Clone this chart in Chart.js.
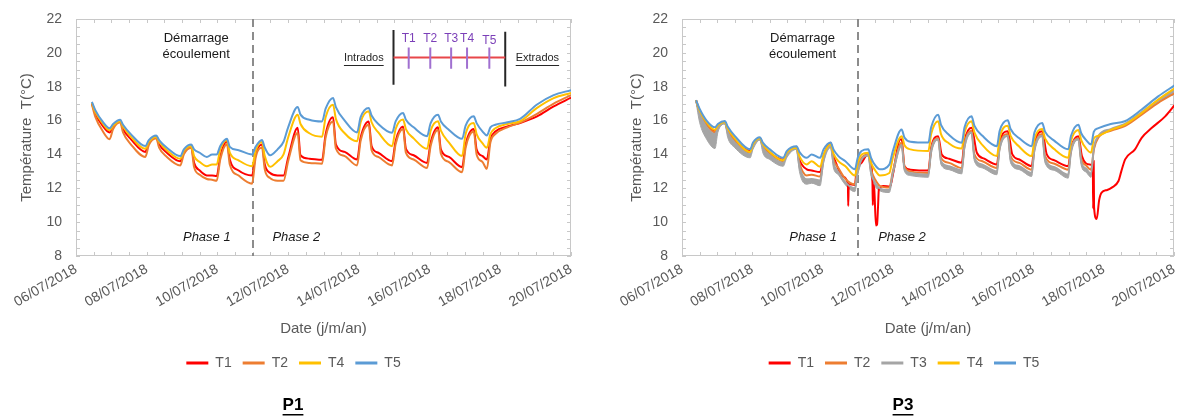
<!DOCTYPE html>
<html>
<head>
<meta charset="utf-8">
<script src="https://cdn.jsdelivr.net/npm/chart.js"></script>
<style>
  html, body { margin: 0; padding: 0; background: #fff; }
  #wrap { position: relative; width: 1177px; height: 418px; overflow: hidden; }
  #p1 { position: absolute; left: 0; top: 0; }
  #p3 { position: absolute; left: 588px; top: 0; }
</style>
</head>
<body>
<div id="wrap">
  <canvas id="p1" width="588" height="418"></canvas>
  <canvas id="p3" width="589" height="418"></canvas>
</div>
<script>
// axis labels
const dateLabels = ["06/07/2018", "08/07/2018", "10/07/2018", "12/07/2018", "14/07/2018", "16/07/2018", "18/07/2018", "20/07/2018"];
const tempTicks = [8, 10, 12, 14, 16, 18, 20, 22];
const flowStartDay = 5; // 11/07/2018, days counted from 06/07/2018 00:00

// P1 (days since 06/07/2018)
const p1Days = [0.45, 0.55, 0.75, 0.95, 1.05, 1.25, 1.33, 1.55, 1.96, 2.06, 2.27, 2.35, 2.57, 2.95,
  3.05, 3.26, 3.34, 3.5, 3.70, 3.85, 3.98, 4.08, 4.27, 4.35, 4.6, 4.98, 5.08, 5.26, 5.34, 5.49, 5.7, 5.87,
  6.0, 6.27, 6.35, 6.6, 6.96, 7.06, 7.27, 7.35, 7.6, 7.95, 8.05, 8.28, 8.36, 8.55, 8.94, 9.04, 9.25, 9.33,
  9.55, 9.93, 10.03, 10.24, 10.32, 10.55, 10.92, 11.02, 11.25, 11.33, 11.5, 11.62, 11.72, 11.86, 12.2,
  12.56, 13.04, 13.51, 14.0];
const p1T1 = [17.0, 16.4, 15.7, 15.3, 15.65, 15.95, 15.5, 14.9, 14.15, 14.7, 15.0, 14.6, 14.1, 13.6,
  14.15, 14.45, 13.5, 13.05, 12.76, 12.75, 12.72, 13.9, 14.78, 13.7, 13.05, 12.76, 14.0, 14.59, 13.4, 12.9, 12.76, 12.76,
  13.8, 15.57, 13.95, 13.75, 13.68, 15.2, 16.2, 14.6, 14.15, 13.7, 15.0, 15.95, 14.5, 14.1, 13.6, 14.8, 15.65, 14.35,
  13.95, 13.5, 14.7, 15.6, 14.3, 13.85, 13.25, 14.6, 15.5, 14.3, 13.9, 13.7, 14.9, 15.35, 15.65,
  15.86, 16.25, 16.84, 17.35];
const p1T2 = [16.95, 16.2, 15.4, 14.9, 15.5, 15.9, 15.3, 14.6, 13.85, 14.55, 14.95, 14.4, 13.85, 13.35,
  14.0, 14.4, 13.25, 12.8, 12.55, 12.5, 12.45, 13.7, 14.6, 13.4, 12.75, 12.27, 13.8, 14.4, 13.1, 12.6, 12.45, 12.45,
  13.6, 15.28, 13.65, 13.5, 13.45, 15.0, 15.95, 14.35, 13.9, 13.35, 14.8, 15.75, 14.25, 13.85, 13.35, 14.6, 15.5, 14.1,
  13.7, 13.2, 14.5, 15.45, 14.05, 13.55, 12.95, 14.4, 15.35, 14.0, 13.55, 13.15, 14.7, 15.2, 15.6,
  15.88, 16.4, 17.0, 17.5];
const p1T4 = [17.05, 16.5, 15.85, 15.43, 15.7, 15.97, 15.65, 15.05, 14.33, 14.75, 15.05, 14.75, 14.25, 13.75,
  14.2, 14.5, 13.9, 13.55, 13.3, 13.4, 13.4, 14.3, 14.84, 14.1, 13.65, 13.3, 14.2, 14.73, 13.9, 13.27, 13.6, 14.0,
  15.0, 16.35, 15.8, 15.25, 15.05, 16.2, 16.94, 16.1, 15.25, 14.78, 15.9, 16.55, 15.9, 15.3, 14.49, 15.5, 16.06, 15.5,
  14.95, 14.33, 15.4, 15.96, 15.4, 14.7, 13.9, 15.2, 15.86, 15.2, 14.65, 14.39, 15.2, 15.55, 15.8,
  15.96, 16.75, 17.33, 17.63];
const p1T5 = [17.1, 16.6, 15.95, 15.55, 15.8, 16.05, 15.75, 15.2, 14.5, 14.85, 15.12, 14.85, 14.4, 13.9,
  14.3, 14.58, 14.3, 14.1, 13.85, 14.0, 14.0, 14.5, 14.92, 14.45, 14.25, 14.0, 14.45, 14.85, 14.4, 13.95, 14.3, 14.75,
  15.6, 16.8, 16.35, 16.05, 15.95, 16.7, 17.33, 16.8, 16.0, 15.3, 16.2, 16.75, 16.3, 15.8, 15.28, 15.95, 16.45, 16.05,
  15.6, 15.08, 15.85, 16.35, 15.95, 15.45, 14.92, 15.7, 16.25, 15.85, 15.35, 15.12, 15.6, 15.75, 15.9,
  16.1, 16.95, 17.5, 17.8];

// P3
const p3Days = [0.40, 0.5, 0.7, 0.94, 1.02, 1.22, 1.3, 1.5, 1.94, 2.02, 2.22, 2.3, 2.5, 2.88,
  2.98, 3.26, 3.34, 3.55, 3.69, 3.93, 4.03, 4.23, 4.31, 4.45, 4.65, 4.92, 5.0, 5.11, 5.3, 5.38, 5.5, 5.63, 5.9,
  6.0, 6.25, 6.33, 6.5, 7.01, 7.09, 7.29, 7.37, 7.6, 7.96, 8.04, 8.24, 8.32, 8.55, 8.96, 9.04, 9.27, 9.35, 9.6, 9.95,
  10.03, 10.25, 10.33, 10.6, 10.99, 11.07, 11.28, 11.36, 11.5, 11.64, 11.72, 11.85, 12.2, 12.6, 13.08, 13.55, 14.03];
const p3T2 = [17.2, 16.5, 15.75, 15.3, 15.6, 15.88, 15.4, 14.8, 14.1, 14.55, 14.92, 14.5, 14.05, 13.6,
  14.05, 14.38, 13.5, 12.76, 12.8, 12.69, 13.8, 14.6, 13.7, 13.2, 12.55, 12.24, 13.2, 13.8, 14.0, 13.1, 12.5, 12.14, 12.04,
  13.0, 14.7, 13.3, 13.0, 12.9, 14.3, 14.95, 13.8, 13.5, 13.2, 14.6, 15.4, 14.0, 13.6, 13.2, 14.5, 15.2, 13.9, 13.5, 13.1,
  14.4, 15.2, 13.9, 13.45, 13.1, 14.3, 14.95, 13.75, 13.35, 13.1, 14.3, 15.0, 15.4, 15.67, 16.35, 17.04, 17.63];
const p3T3 = [17.2, 16.4, 15.6, 15.2, 15.55, 15.85, 15.3, 14.7, 14.0, 14.5, 14.9, 14.4, 13.95, 13.5,
  14.0, 14.35, 13.3, 12.53, 12.55, 12.45, 13.7, 14.5, 13.5, 12.95, 12.35, 12.0, 13.0, 13.7, 13.95, 12.9, 12.3, 12.0, 11.9,
  12.9, 14.55, 13.15, 12.9, 12.8, 14.2, 14.9, 13.6, 13.3, 13.05, 14.5, 15.3, 13.8, 13.4, 13.0, 14.4, 15.1, 13.7, 13.3, 12.9,
  14.3, 15.1, 13.7, 13.25, 12.8, 14.2, 14.9, 13.55, 13.15, 12.85, 14.4, 15.1, 15.5, 15.8, 16.5, 17.2, 17.8];
const p3T3Low = [17.1, 15.9, 14.9, 14.35, 15.3, 15.8, 15.0, 14.4, 13.8, 14.3, 14.85, 14.1, 13.7, 13.3,
  13.8, 14.3, 13.0, 12.24, 12.3, 12.15, 13.5, 14.4, 13.2, 12.8, 12.2, 11.8, 12.8, 13.5, 13.9, 12.7, 12.1, 11.85, 11.75,
  12.7, 14.5, 13.0, 12.75, 12.65, 14.0, 14.85, 13.4, 13.1, 12.85, 14.3, 15.25, 13.6, 13.2, 12.8, 14.2, 15.05, 13.5, 13.1, 12.7,
  14.1, 15.05, 13.5, 13.05, 12.6, 14.0, 14.85, 13.35, 12.95, 12.65, 14.2, 15.0, 15.4, 15.7, 16.4, 17.1, 17.7];
const p3T4 = [17.2, 16.6, 15.9, 15.45, 15.7, 15.92, 15.55, 14.95, 14.15, 14.6, 14.95, 14.6, 14.15, 13.65,
  14.1, 14.4, 13.9, 13.41, 13.6, 13.27, 14.0, 14.6, 14.05, 13.6, 13.3, 12.75, 13.5, 14.0, 14.1, 13.5, 13.05, 12.76, 12.9,
  13.8, 15.08, 14.55, 14.3, 14.2, 15.2, 15.96, 15.2, 14.65, 14.35, 15.3, 15.96, 15.3, 14.55, 13.9, 15.0, 15.7, 15.1, 14.45, 13.9,
  14.9, 15.5, 14.95, 14.3, 13.8, 14.8, 15.45, 14.85, 14.35, 14.1, 14.95, 15.1, 15.45, 15.76, 16.45, 17.24, 17.92];
const p3T5 = [17.2, 16.7, 16.0, 15.6, 15.8, 15.98, 15.65, 15.1, 14.3, 14.7, 15.02, 14.7, 14.3, 13.8,
  14.2, 14.49, 14.15, 13.8, 14.0, 13.8, 14.3, 14.7, 14.3, 13.9, 13.6, 13.12, 13.8, 14.2, 14.3, 13.8, 13.35, 13.12, 13.4,
  14.2, 15.47, 15.0, 14.75, 14.7, 15.6, 16.35, 15.75, 15.15, 14.69, 15.6, 16.25, 15.7, 15.1, 14.49, 15.4, 16.02, 15.5, 14.95, 14.49,
  15.3, 15.86, 15.35, 14.8, 14.3, 15.1, 15.76, 15.25, 14.85, 14.59, 15.35, 15.55, 15.8, 15.96, 16.65, 17.43, 18.1];
// T1 of P3 has its own sampling because of the spikes
const p3T1Days = [0.40, 0.5, 0.7, 0.94, 1.02, 1.22, 1.3, 1.5, 1.94, 2.02, 2.22, 2.3, 2.5, 2.88, 2.98, 3.26, 3.34,
  3.55, 3.69, 3.93, 4.03, 4.23, 4.31, 4.4, 4.55, 4.72, 4.73, 4.745, 4.92, 4.97, 5.11, 5.3, 5.38, 5.42, 5.43, 5.44,
  5.47, 5.52, 5.55, 5.58, 5.6, 5.73, 5.92, 6.01, 6.2, 6.25, 6.33, 6.5, 7.01, 7.09, 7.29, 7.39, 7.6, 7.96, 8.04,
  8.24, 8.39, 8.6, 8.96, 9.04, 9.27, 9.4, 9.6, 9.95, 10.03, 10.25, 10.38, 10.6, 10.99, 11.07, 11.28, 11.38, 11.6,
  11.69, 11.70, 11.715, 11.725, 11.8, 11.87, 11.94, 12.1, 12.23, 12.42, 12.5, 12.61, 12.89, 13.08, 13.37, 13.75, 14.03];
const p3T1 = [17.2, 16.55, 15.8, 15.4, 15.65, 15.9, 15.45, 14.85, 14.2, 14.6, 14.95, 14.55, 14.1, 13.7, 14.1, 14.45, 13.7,
  13.12, 13.05, 12.96, 13.9, 14.69, 13.9, 13.4, 12.7, 12.3, 10.96, 12.25, 12.2, 13.12, 13.51, 14.05, 13.4, 12.3, 11.0, 12.2,
  12.0, 9.8, 9.85, 11.0, 11.9, 12.14, 12.1, 12.92, 14.88, 14.9, 13.3, 13.1, 13.05, 14.4, 15.08, 14.0, 13.75, 13.51, 14.8,
  15.57, 14.1, 13.75, 13.41, 14.7, 15.37, 14.0, 13.7, 13.31, 14.6, 15.37, 14.0, 13.65, 13.31, 14.4, 15.08, 13.9, 13.41,
  13.3, 10.8, 13.6, 10.9, 10.18, 11.3, 11.75, 11.9, 12.04, 12.43, 13.0, 13.71, 14.3, 14.98, 15.57, 16.25, 16.94];

const colors = { T1: "#ff0000", T2: "#ed7d31", T3: "#a5a5a5", T4: "#ffc000", T5: "#5b9bd5" };
const textGrey = "#595959";
Chart.defaults.font.family = "'Liberation Sans', Arial, sans-serif";

function points(days, temps) {
  return days.map(function (d, i) { return { x: d, y: temps[i] }; });
}

function line(label, days, temps) {
  return {
    label: label,
    data: points(days, temps),
    borderColor: colors[label],
    backgroundColor: colors[label],
    borderWidth: 2,
    pointRadius: 0,
    pointStyle: "line",
    cubicInterpolationMode: "monotone",
    order: 6 - Number(label.slice(1)), // T5 drawn on top
  };
}

// frame, inner tick marks, dashed line, annotations
const decor = {
  id: "decor",
  afterLayout(chart, args, o) {
    const lg = chart.legend;
    const dx = o.legendX - (lg.left + lg.right) / 2;
    const dy = o.legendY - (lg.top + lg.bottom) / 2;
    lg.left += dx; lg.right += dx; lg.top += dy; lg.bottom += dy;
  },
  beforeDatasetsDraw(chart, args, o) {
    const ctx = chart.ctx, a = chart.chartArea, x = chart.scales.x, y = chart.scales.y;
    ctx.save();
    ctx.strokeStyle = "#c8c8c8";
    ctx.lineWidth = 1;
    ctx.strokeRect(Math.round(a.left) + 0.5, Math.round(a.top) + 0.5, Math.round(a.width) - 1, Math.round(a.height) - 1);
    ctx.beginPath();
    x.ticks.forEach(function (t) {
      const px = Math.round(x.getPixelForValue(t.value)) + 0.5;
      ctx.moveTo(px, a.bottom); ctx.lineTo(px, a.bottom - 4);
      ctx.moveTo(px, a.top); ctx.lineTo(px, a.top + 4);
    });
    y.ticks.forEach(function (t) {
      const py = Math.round(y.getPixelForValue(t.value)) + 0.5;
      ctx.moveTo(a.left, py); ctx.lineTo(a.left + 4, py);
      ctx.moveTo(a.right, py); ctx.lineTo(a.right - 4, py);
    });
    ctx.stroke();
    const fx = Math.round(x.getPixelForValue(o.flowDay));
    ctx.strokeStyle = "#8c8c8c";
    ctx.lineWidth = 2;
    ctx.setLineDash([8, 5]);
    ctx.beginPath();
    ctx.moveTo(fx, a.top);
    ctx.lineTo(fx, a.bottom);
    ctx.stroke();
    ctx.restore();
  },
  afterDatasetsDraw(chart, args, o) {
    const ctx = chart.ctx, x = chart.scales.x, y = chart.scales.y;
    const fam = Chart.defaults.font.family;
    ctx.save();
    ctx.textAlign = "center";
    ctx.textBaseline = "middle";
    o.notes.forEach(function (n) {
      ctx.font = (n.italic ? "italic " : "") + "13px " + fam;
      ctx.fillStyle = "#1a1a1a";
      ctx.fillText(n.text, x.getPixelForValue(n.x), y.getPixelForValue(n.y));
    });
    const s = o.inset;
    if (s) {
      const X = function (v) { return x.getPixelForValue(v); };
      const Y = function (v) { return y.getPixelForValue(v); };
      ctx.lineWidth = 2;
      ctx.strokeStyle = "#262626";
      ctx.beginPath();
      ctx.moveTo(X(s.leftX), Y(s.leftY[0])); ctx.lineTo(X(s.leftX), Y(s.leftY[1]));
      ctx.moveTo(X(s.rightX), Y(s.rightY[0])); ctx.lineTo(X(s.rightX), Y(s.rightY[1]));
      ctx.stroke();
      ctx.strokeStyle = "#e8474a";
      ctx.beginPath();
      ctx.moveTo(X(s.leftX), Y(s.axisY)); ctx.lineTo(X(s.rightX), Y(s.axisY));
      ctx.stroke();
      ctx.strokeStyle = "#a070d0";
      ctx.beginPath();
      s.sensorX.forEach(function (v) { ctx.moveTo(X(v), Y(s.sensorY[0])); ctx.lineTo(X(v), Y(s.sensorY[1])); });
      ctx.stroke();
      ctx.fillStyle = "#7b3fb8";
      ctx.font = "12px " + fam;
      s.sensorX.forEach(function (v, i) { ctx.fillText("T" + (i + 1), X(v), Y(s.labelY[i])); });
      ctx.fillStyle = "#262626";
      ctx.strokeStyle = "#262626";
      ctx.lineWidth = 1;
      ctx.font = "11px " + fam;
      s.sides.forEach(function (t) {
        const px = X(t.x), py = Y(t.y), w = ctx.measureText(t.text).width;
        ctx.fillText(t.text, px, py);
        ctx.beginPath();
        ctx.moveTo(px - w / 2, Math.round(py + 7) + 0.5);
        ctx.lineTo(px + w / 2, Math.round(py + 7) + 0.5);
        ctx.stroke();
      });
    }
    ctx.restore();
  },
  afterDraw(chart, args, o) {
    const ctx = chart.ctx;
    ctx.save();
    ctx.font = "bold 17px " + Chart.defaults.font.family;
    ctx.fillStyle = "#000";
    ctx.textAlign = "center";
    ctx.textBaseline = "middle";
    ctx.fillText(o.tag.text, o.tag.x, o.tag.y);
    const w = ctx.measureText(o.tag.text).width;
    ctx.fillRect(o.tag.x - w / 2, o.tag.y + 9, w, 1.5);
    ctx.restore();
  },
};

function buildOptions(c) {
  return {
    responsive: false,
    animation: false,
    events: [],
    devicePixelRatio: 1,
    layout: { padding: { top: 19, right: c.padRight, bottom: 45, left: 0 } },
    scales: {
      x: {
        type: "linear",
        min: 0,
        max: 14,
        grid: { display: false },
        border: { display: false },
        ticks: {
          stepSize: 0.5,
          autoSkip: false,
          minRotation: 30,
          maxRotation: 30,
          padding: -3,
          color: textGrey,
          font: { size: 14 },
          callback: function (v) { return v % 2 === 0 ? dateLabels[v / 2] : ""; },
        },
        title: { display: true, text: "Date (j/m/an)", color: textGrey, font: { size: 15 }, padding: 0 },
        afterFit: function (s) { s.height = 82; s.paddingLeft = 0; s.paddingRight = 0; },
      },
      y: {
        min: 8,
        max: 22,
        grid: { display: false },
        border: { display: false },
        ticks: {
          stepSize: 0.5,
          autoSkip: false,
          padding: 6,
          color: textGrey,
          font: { size: 14 },
          callback: function (v) { return tempTicks.includes(v) ? String(v) : ""; },
        },
        title: { display: true, text: "Température  T(°C)", color: textGrey, font: { size: 15 }, padding: { top: c.yTitlePad, bottom: 0 } },
        afterFit: function (s) { s.width = c.yWidth; s.paddingTop = 0; s.paddingBottom = 0; },
      },
    },
    plugins: {
      tooltip: { enabled: false },
      legend: {
        position: "bottom",
        labels: {
          usePointStyle: true,
          pointStyle: "line",
          pointStyleWidth: 22,
          padding: 11,
          color: textGrey,
          font: { size: 14 },
          generateLabels: function (chart) {
            return Chart.defaults.plugins.legend.labels.generateLabels(chart).map(function (item) {
              item.lineWidth = 3;
              return item;
            });
          },
          filter: function (item) { return item.text.charAt(0) !== "_"; },
          sort: function (a, b) { return a.datasetIndex - b.datasetIndex; },
        },
      },
      decor: c.decor,
    },
  };
}

const notesP1 = [
  { text: "Démarrage", x: 3.40, y: 20.86 },
  { text: "écoulement", x: 3.40, y: 19.92 },
  { text: "Phase 1", x: 3.70, y: 9.1, italic: true },
  { text: "Phase 2", x: 6.23, y: 9.1, italic: true },
];
const notesP3 = [
  { text: "Démarrage", x: 3.43, y: 20.86 },
  { text: "écoulement", x: 3.43, y: 19.92 },
  { text: "Phase 1", x: 3.73, y: 9.1, italic: true },
  { text: "Phase 2", x: 6.26, y: 9.1, italic: true },
];

new Chart(document.getElementById("p1"), {
  type: "line",
  data: {
    datasets: [
      line("T1", p1Days, p1T1),
      line("T2", p1Days, p1T2),
      line("T4", p1Days, p1T4),
      line("T5", p1Days, p1T5),
    ],
  },
  options: buildOptions({
    padRight: 17,
    yWidth: 76,
    yTitlePad: 18,
    decor: {
      legendX: 293.5,
      legendY: 362.5,
      flowDay: flowStartDay,
      notes: notesP1,
      inset: {
        leftX: 8.98, leftY: [21.35, 18.12],
        rightX: 12.14, rightY: [21.25, 18.02],
        axisY: 19.72,
        sensorX: [9.41, 10.02, 10.61, 11.06, 11.69],
        sensorY: [20.31, 19.06],
        labelY: [20.82, 20.82, 20.82, 20.82, 20.72],
        sides: [{ text: "Intrados", x: 8.14, y: 19.69 }, { text: "Extrados", x: 13.05, y: 19.69 }],
      },
      tag: { text: "P1", x: 293, y: 405 },
    },
  }),
  plugins: [decor],
});

new Chart(document.getElementById("p3"), {
  type: "line",
  data: {
    datasets: [
      line("T1", p3T1Days, p3T1),
      line("T2", p3Days, p3T2),
      line("T3", p3Days, p3T3),
      line("T4", p3Days, p3T4),
      line("T5", p3Days, p3T5),
      {
        label: "_T3band",
        data: points(p3Days, p3T3Low),
        borderColor: colors.T3,
        backgroundColor: colors.T3,
        borderWidth: 1,
        pointRadius: 0,
        cubicInterpolationMode: "monotone",
        fill: 2,
        order: 10,
      },
    ],
  },
  options: buildOptions({
    padRight: 3,
    yWidth: 94,
    yTitlePad: 40,
    decor: {
      legendX: 316,
      legendY: 362.5,
      flowDay: flowStartDay,
      notes: notesP3,
      inset: null,
      tag: { text: "P3", x: 315, y: 405 },
    },
  }),
  plugins: [decor],
});
</script>
</body>
</html>
